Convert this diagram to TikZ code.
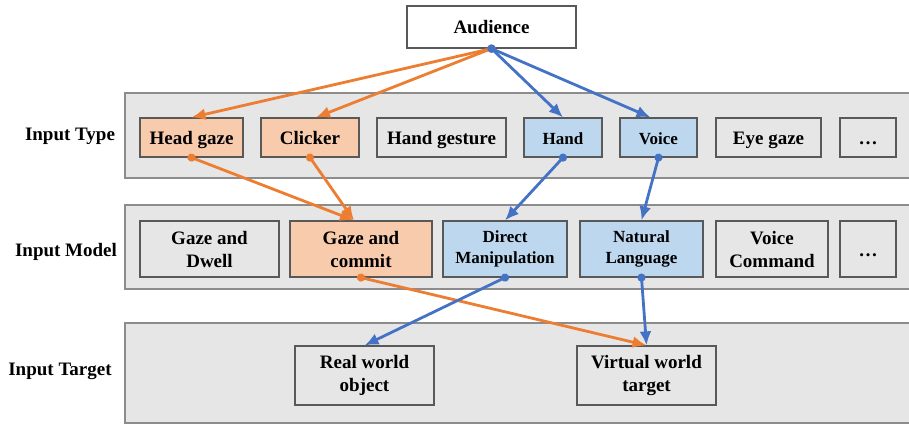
\documentclass[tikz,border=0pt]{standalone}
\usepackage{fontspec}
\setmainfont{Liberation Serif}
\usetikzlibrary{arrows.meta}
\definecolor{bandfill}{HTML}{E7E6E6}
\definecolor{bandline}{HTML}{8C8C8C}
\definecolor{boxline}{HTML}{595959}
\definecolor{orng}{HTML}{ED7D31}
\definecolor{orngfill}{HTML}{F8CBAD}
\definecolor{blu}{HTML}{4472C4}
\definecolor{blufill}{HTML}{BDD7EE}
\begin{document}
\begin{tikzpicture}[x=1pt, y=-1pt,
  band/.style={fill=bandfill, draw=bandline, line width=1.5pt},
  box/.style={draw=boxline, line width=1.2pt, fill=bandfill, inner sep=0pt, align=center,
    font=\fontsize{19}{23}\selectfont\bfseries},
  obox/.style={box, fill=orngfill},
  bbox/.style={box, fill=blufill, font=\fontsize{17}{21}\selectfont\bfseries},
  oneline/.style={text height=14pt, text depth=0pt},
  rowlabel/.style={font=\fontsize{19}{23}\selectfont\bfseries},
  link/.style={line width=2.8pt, {Circle[length=8pt]}-{Latex[length=14pt,width=12pt]}, shorten <=-4pt},
  olink/.style={link, orng},
  blink/.style={link, blu}]
\useasboundingbox (0,0) rectangle (909,425);
% the three bands
\draw[band] (915,93) -- (125,93) -- (125,178) -- (915,178);
\draw[band] (915,205) -- (125,205) -- (125,289) -- (915,289);
\draw[band] (915,323) -- (125,323) -- (125,423) -- (915,423);
\node[rowlabel] (ltype) at (70,136) {Input Type};
\node[rowlabel] (lmodel) at (66,252) {Input Model};
\node[rowlabel] (ltarget) at (60,371) {Input Target};
% top
\node[box, fill=white, minimum width=169pt, minimum height=42pt] (aud) at (491.5,27) {Audience};
% input type
\node[obox, oneline, minimum width=103pt, minimum height=39pt] (head) at (191.5,137.5) {Head gaze};
\node[obox, oneline, minimum width=98pt, minimum height=39pt] (click) at (310,137.5) {Clicker};
\node[box, oneline, minimum width=129pt, minimum height=39pt] (gest) at (441.5,137.5) {Hand gesture};
\node[bbox, oneline, minimum width=78pt, minimum height=39pt] (hand) at (563,137.5) {Hand};
\node[bbox, oneline, minimum width=77pt, minimum height=39pt] (voice) at (658.5,137.5) {Voice};
\node[box, oneline, minimum width=105pt, minimum height=39pt] (eye) at (768.5,137.5) {Eye gaze};
\node[box, oneline, minimum width=56pt, minimum height=39pt] (more1) at (868,137.5) {…};
% input model
\node[box, minimum width=139pt, minimum height=56pt] (dwell) at (209.5,249) {Gaze and\\Dwell};
\node[obox, minimum width=142pt, minimum height=56pt] (commit) at (361,249) {Gaze and\\commit};
\node[bbox, minimum width=124pt, minimum height=56pt] (direct) at (505,249) {Direct\\Manipulation};
\node[bbox, minimum width=123pt, minimum height=56pt] (natural) at (641.5,249) {Natural\\Language};
\node[box, minimum width=112pt, minimum height=56pt] (command) at (772,249) {Voice\\Command};
\node[box, oneline, minimum width=56pt, minimum height=56pt] (more2) at (868,249) {…};
% input target
\node[box, minimum width=139pt, minimum height=59pt] (real) at (364.5,375.5) {Real world\\object};
\node[box, minimum width=139pt, minimum height=59pt] (virt) at (646.5,375.5) {Virtual world\\target};
% orange path
\draw[olink] (aud.south) -- (head.north);
\draw[olink] (aud.south) -- ([xshift=6pt]click.north);
\draw[olink] (head.south) -- ([xshift=-7pt]commit.north);
\draw[olink] (click.south) -- ([xshift=-7pt]commit.north);
\draw[olink] (commit.south) -- (virt.north);
% blue path
\draw[blink] (aud.south) -- (hand.north);
\draw[blink] (aud.south) -- ([xshift=-8pt]voice.north);
\draw[blink] (hand.south) -- (direct.north);
\draw[blink] (voice.south) -- (natural.north);
\draw[blink] (direct.south) -- (real.north);
\draw[blink] (natural.south) -- (virt.north);
\end{tikzpicture}
\end{document}
